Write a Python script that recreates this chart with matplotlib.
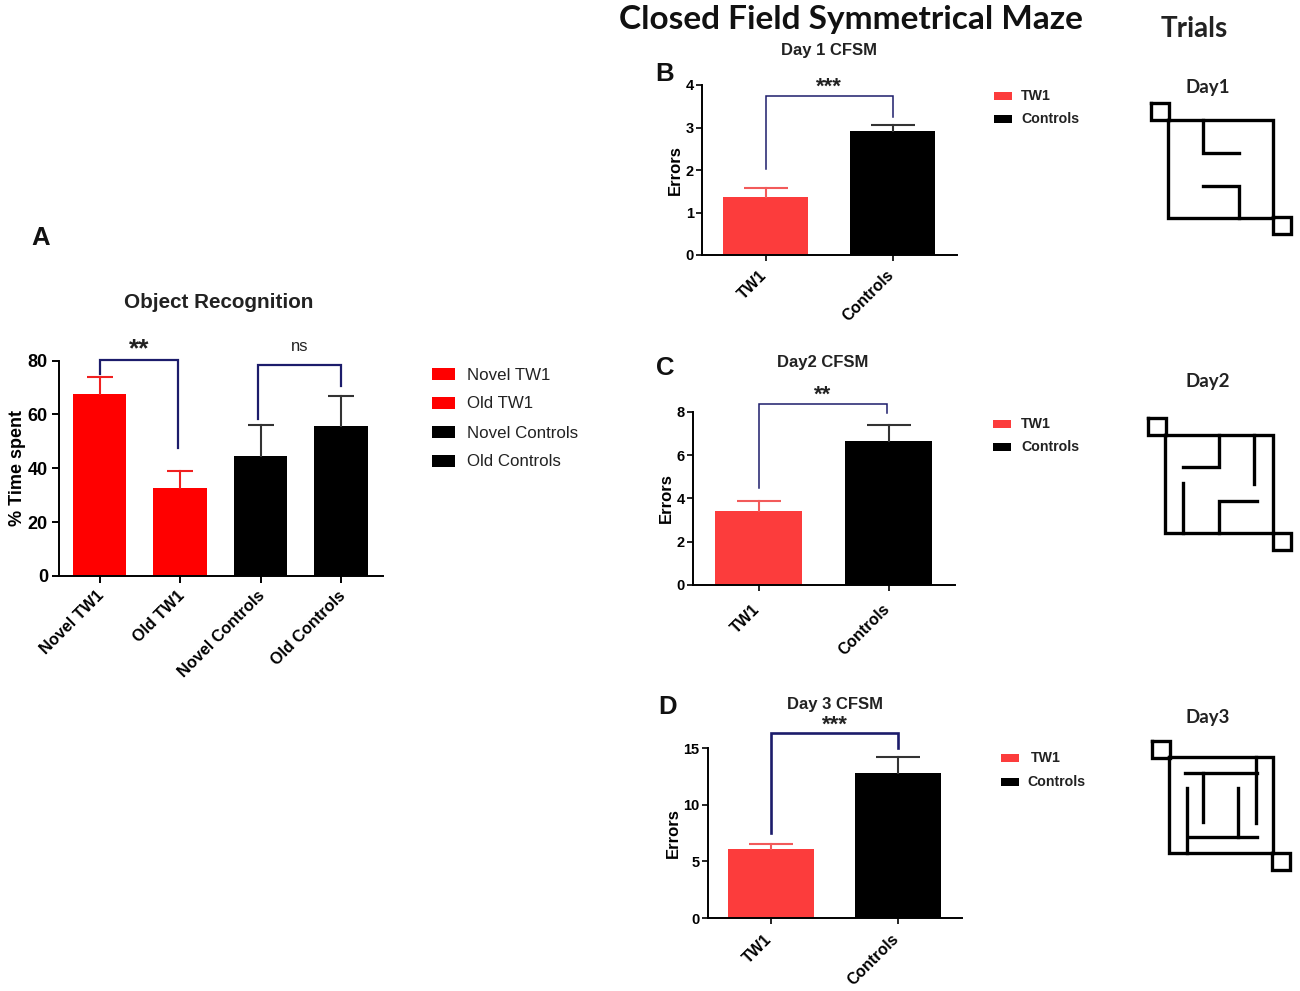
import matplotlib
matplotlib.use("Agg")
import matplotlib.pyplot as plt
from matplotlib.patches import Rectangle
from matplotlib.transforms import ScaledTranslation

W, H = 1300, 991
plt.rcParams['font.family'] = ['Liberation Sans', 'DejaVu Sans']

# data
a_labels = ['Novel TW1', 'Old TW1', 'Novel Controls', 'Old Controls']
a_values = [67.5, 32.5, 44.5, 55.5]
a_errors = [6.5, 6.5, 11.5, 11.5]
a_ticks = [0, 20, 40, 60, 80]

day_labels = ['TW1', 'Controls']
b_values = [1.36, 2.92]
b_errors = [0.22, 0.15]
b_ticks = [0, 1, 2, 3, 4]
c_values = [3.4, 6.65]
c_errors = [0.5, 0.75]
c_ticks = [0, 2, 4, 6, 8]
d_values = [6.1, 12.8]
d_errors = [0.4, 1.45]
d_ticks = [0, 5, 10, 15]

# maze walls, in picture pixels
day1_walls = [
    [(1151, 103), (1169, 103), (1169, 120), (1151, 120), (1151, 103)],
    [(1168, 120), (1273, 120), (1273, 218), (1168, 218), (1168, 120)],
    [(1273, 217), (1291, 217), (1291, 234), (1273, 234), (1273, 217)],
    [(1203, 120), (1203, 153), (1239, 153)],
    [(1203, 186), (1239, 186), (1239, 218)],
]
day2_walls = [
    [(1148, 418), (1166, 418), (1166, 435), (1148, 435), (1148, 418)],
    [(1165, 435), (1273, 435), (1273, 533), (1165, 533), (1165, 435)],
    [(1273, 533), (1291, 533), (1291, 550), (1273, 550), (1273, 533)],
    [(1219, 435), (1219, 467), (1183, 467)],
    [(1254, 435), (1254, 484)],
    [(1183, 483), (1183, 533)],
    [(1219, 533), (1219, 501), (1257, 501)],
]
day3_walls = [
    [(1152, 741), (1170, 741), (1170, 758), (1152, 758), (1152, 741)],
    [(1169, 757), (1273, 757), (1273, 853), (1169, 853), (1169, 757)],
    [(1272, 853), (1290, 853), (1290, 870), (1272, 870), (1272, 853)],
    [(1256, 757), (1256, 823)],
    [(1185, 773), (1257, 773)],
    [(1203, 773), (1203, 822)],
    [(1187, 788), (1187, 853)],
    [(1238, 788), (1238, 837)],
    [(1188, 837), (1257, 837)],
]

RED_A = '#ff0000'
RED_B = '#fc3c3c'
NAVY = '#1c1c6b'

fig = plt.figure(figsize=(W / 100, H / 100), dpi=100)

# overlay in picture pixels, for the loose text, legends and mazes
over = fig.add_axes([0, 0, 1, 1], zorder=5)
over.set_xlim(0, W)
over.set_ylim(H, 0)
over.axis('off')


def make_panel(left, right, y0, ytop, first, second, ticks):
    ax = fig.add_axes([left / W, 1 - y0 / H, (right - left) / W, (y0 - ytop) / H])
    step = second - first
    ax.set_xlim((left - first) / step, (right - first) / step)
    ax.set_ylim(0, ticks[-1])
    ax.set_yticks(ticks)
    for s in ['top', 'right']:
        ax.spines[s].set_visible(False)
    for s in ['left', 'bottom']:
        ax.spines[s].set_linewidth(1.4)
    return ax


def draw_bars(ax, values, errors, colors, width, cap_size, err_colors):
    xs = range(len(values))
    ax.bar(xs, values, width=width, color=colors, zorder=2)
    # upper whisker only, no cap on the bar top
    for x, v, e, c in zip(xs, values, errors, err_colors):
        ax.plot([x, x], [v, v + e], color=c, lw=1.5, zorder=3, clip_on=False)
        ax.plot([x], [v + e], color=c, marker='_', ms=cap_size, mew=1.5, zorder=3, clip_on=False)


def bracket(ax, x1, x2, y1, y2, top, label, lw, size, gap):
    ax.plot([x1, x1, x2, x2], [y1, top, top, y2], color=NAVY, lw=lw,
            clip_on=False, solid_joinstyle='miter', zorder=4)
    ax.annotate(label, ((x1 + x2) / 2, top), xytext=(0, gap), textcoords='offset points',
                ha='center', va='center', fontsize=size, annotation_clip=False,
                fontweight='bold' if label != 'ns' else 'normal', color='#222222')


def shift_labels(ax, dx, dy):
    # has to come after tick_params, which resets the label transform
    offset = ScaledTranslation(dx / 100, -dy / 100, fig.dpi_scale_trans)
    for lab in ax.get_xticklabels():
        lab.set_transform(lab.get_transform() + offset)


# panel A
ax = make_panel(59, 383, 576, 360.5, 99.5, 180, a_ticks)
draw_bars(ax, a_values, a_errors, [RED_A, RED_A, 'black', 'black'], 0.67, 19,
          ['#f02020', '#f02020', '#333333', '#333333'])
ax.set_xticks(range(4))
ax.set_xticklabels(a_labels, rotation=45, ha='right', rotation_mode='anchor',
                   fontsize=11.7, fontweight='bold')
ax.set_yticklabels(a_ticks, fontsize=13, fontweight='bold')
ax.tick_params(axis='both', width=1.4, length=5, pad=3)
shift_labels(ax, -3, 1)
ax.set_ylabel('% Time spent', fontsize=13, fontweight='bold', labelpad=1)
bracket(ax, 0, 0.98, 75, 47.7, 80.2, '**', 1.6, 19, 8)
bracket(ax, 1.97, 3.0, 58.4, 70.7, 78.5, 'ns', 1.6, 12, 13)

# panels B, C, D
day_panels = [
    (702, 957, 255, 85, 765.5, 892.5, b_values, b_errors, b_ticks, (0, 1.0, 2.02, 3.25, 3.74), '***', 1.1, 4),
    (693, 955, 585, 412, 758.5, 888.5, c_values, c_errors, c_ticks, (0, 0.99, 4.48, 7.96, 8.37), '**', 1.1, 8),
    (708, 962, 918, 748, 771, 898, d_values, d_errors, d_ticks, (0, 1.0, 7.5, 15.0, 16.3), '***', 1.9, 5),
]
for left, right, y0, ytop, c1, c2, vals, errs, ticks, br, stars, br_lw, drop in day_panels:
    ax = make_panel(left, right, y0, ytop, c1, c2, ticks)
    draw_bars(ax, vals, errs, [RED_B, 'black'], 0.67, 31, ['#f25a5a', '#333333'])
    ax.set_xticks([0, 1])
    ax.set_xticklabels(day_labels, rotation=45, ha='right', rotation_mode='anchor',
                       fontsize=11.4, fontweight='bold')
    ax.set_yticklabels(ticks, fontsize=10.5, fontweight='bold')
    ax.tick_params(axis='both', width=1.2, length=4, pad=2)
    shift_labels(ax, -6.5, drop)
    ax.set_ylabel('Errors', fontsize=12, fontweight='bold', labelpad=2)
    bracket(ax, br[0], br[1], br[2], br[3], br[4], stars, br_lw, 16, 6)

# headings
over.text(851, 19, 'Closed Field Symmetrical Maze', family='Lato', fontweight='bold',
          fontsize=24, ha='center', va='center', color='#111111')
over.text(1194, 29, 'Trials', family='Lato', fontweight='bold', fontsize=20,
          ha='center', va='center', color='#222222')
over.text(219, 302, 'Object Recognition', fontsize=14.9, fontweight='bold',
          ha='center', va='center', color='#222222')
for x, y, s in [(829, 50, 'Day 1 CFSM'), (823, 363, 'Day2 CFSM'), (835, 704, 'Day 3 CFSM')]:
    over.text(x, y, s, fontsize=12, fontweight='bold', ha='center', va='center', color='#222222')
for y, s in [(87, 'Day1'), (381, 'Day2'), (717, 'Day3')]:
    over.text(1208, y, s, family='Lato', fontsize=13.5, fontweight='bold',
              ha='center', va='center', color='#222222')
for x, y, s in [(41, 238, 'A'), (665, 74, 'B'), (665, 368, 'C'), (668, 707, 'D')]:
    over.text(x, y, s, fontsize=18.5, fontweight='bold', ha='center', va='center', color='#111111')

# legends
a_legend = [(374, RED_A), (403, RED_A), (432, 'black'), (461, 'black')]
for (y, c), s in zip(a_legend, a_labels):
    over.add_patch(Rectangle((432, y - 6), 23, 12, color=c, lw=0))
    over.text(467, y + 1, s, fontsize=12.2, va='center', color='#222222')
day_legends = [
    (994, 96, 119, 1021, 1021),
    (993, 424, 447, 1021, 1021),
    (1001, 758, 782, 1031, 1027),
]
for px, y1, y2, tx1, tx2 in day_legends:
    over.add_patch(Rectangle((px, y1 - 4), 18, 8, color=RED_B, lw=0))
    over.add_patch(Rectangle((px, y2 - 4), 18, 8, color='black', lw=0))
    over.text(tx1, y1, day_labels[0], fontsize=10.2, fontweight='bold', va='center', color='#222222')
    over.text(tx2, y2, day_labels[1], fontsize=10.2, fontweight='bold', va='center', color='#222222')

# mazes
for walls in [day1_walls, day2_walls, day3_walls]:
    for wall in walls:
        xs, ys = zip(*wall)
        over.plot(xs, ys, color='black', lw=2.4, solid_capstyle='projecting',
                  solid_joinstyle='miter')

fig.savefig('out.png', dpi=100)
